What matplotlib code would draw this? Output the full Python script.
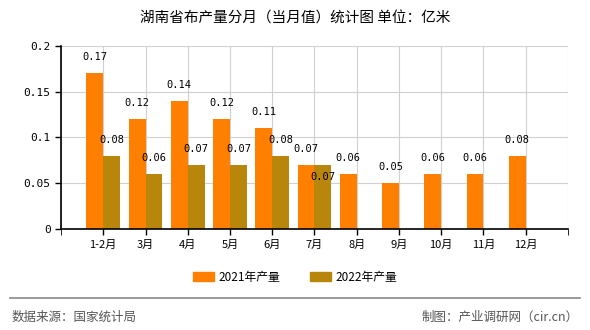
import matplotlib.pyplot as plt
import numpy as np
from matplotlib.lines import Line2D
from matplotlib.patches import Patch

plt.rcParams["font.family"] = ["Noto Sans CJK SC", "DejaVu Sans"]

TITLE = "湖南省布产量分月（当月值）统计图 单位：亿米"
months = ["1-2月", "3月", "4月", "5月", "6月", "7月", "8月", "9月", "10月", "11月", "12月"]
output_2021 = [0.17, 0.12, 0.14, 0.12, 0.11, 0.07, 0.06, 0.05, 0.06, 0.06, 0.08]
output_2022 = [0.08, 0.06, 0.07, 0.07, 0.08, 0.07]
yticks = [0, 0.05, 0.1, 0.15, 0.2]
ytick_labels = ["0", "0.05", "0.1", "0.15", "0.2"]

C2021 = "#FF8000"
C2022 = "#B8860B"
MONO = ["DejaVu Sans Mono"]

fig = plt.figure(figsize=(5.9, 3.3), dpi=100)
ax = fig.add_axes([0.1034, 0.306, 0.8593, 0.555])

x = np.arange(len(months))
w = 0.4
ax.bar(x - w / 2, output_2021, width=w, color=C2021, zorder=2)
x22 = x[: len(output_2022)]
ax.bar(x22 + w / 2, output_2022, width=w, color=C2022, zorder=2)

for xi, v in zip(x, output_2021):
    ax.annotate(f"{v:.2f}", (xi - w / 2, v), xytext=(0, 8), textcoords="offset points",
                ha="center", va="bottom", fontsize=7.5, family=MONO)
for xi, v, v21 in zip(x22, output_2022, output_2021):
    # label sits inside the bar when the 2021 label already takes that spot
    dy = -12 if abs(v - v21) < 1e-9 else 8
    ax.annotate(f"{v:.2f}", (xi + w / 2, v), xytext=(0, dy), textcoords="offset points",
                ha="center", va="bottom", fontsize=7.5, family=MONO, zorder=3)

ax.set_xlim(-1, len(months))
ax.set_ylim(0, 0.2)
ax.set_yticks(yticks)
ax.set_yticklabels(ytick_labels, family=MONO, fontsize=8)
ax.set_xticks(x)
ax.set_xticklabels(months, fontsize=8)
ax.set_xticks(np.arange(-1, len(months) + 1), minor=True)
ax.tick_params(axis="both", length=4, width=1, color="black")
ax.tick_params(axis="x", which="minor", length=4)
ax.grid(True, axis="y", color="#d0d0d0", lw=0.8, zorder=0)
ax.grid(True, axis="x", which="both", color="#d0d0d0", lw=0.8, zorder=0)
for side in ["top", "right"]:
    ax.spines[side].set_visible(False)
ax.spines["left"].set_linewidth(1.2)
ax.spines["bottom"].set_linewidth(1.2)

fig.text(0.5, 0.945, TITLE, ha="center", va="center", fontsize=10.5)

handles = [Patch(color=C2021, label="2021年产量"), Patch(color=C2022, label="2022年产量")]
fig.legend(handles=handles, loc="center", bbox_to_anchor=(0.5, 0.16), ncol=2, frameon=False,
           fontsize=8.5, handlelength=1.8, handleheight=0.8, columnspacing=2.5, handletextpad=0.4)

fig.add_artist(Line2D([0.017, 0.983], [0.097, 0.097], color="#888888", lw=1.2,
                      transform=fig.transFigure))
fig.text(0.02, 0.04, "数据来源：国家统计局", ha="left", va="center", fontsize=9, color="#555555")
fig.text(0.98, 0.04, "制图：产业调研网（cir.cn）", ha="right", va="center", fontsize=9, color="#555555")

fig.savefig("out.png", dpi=100)
